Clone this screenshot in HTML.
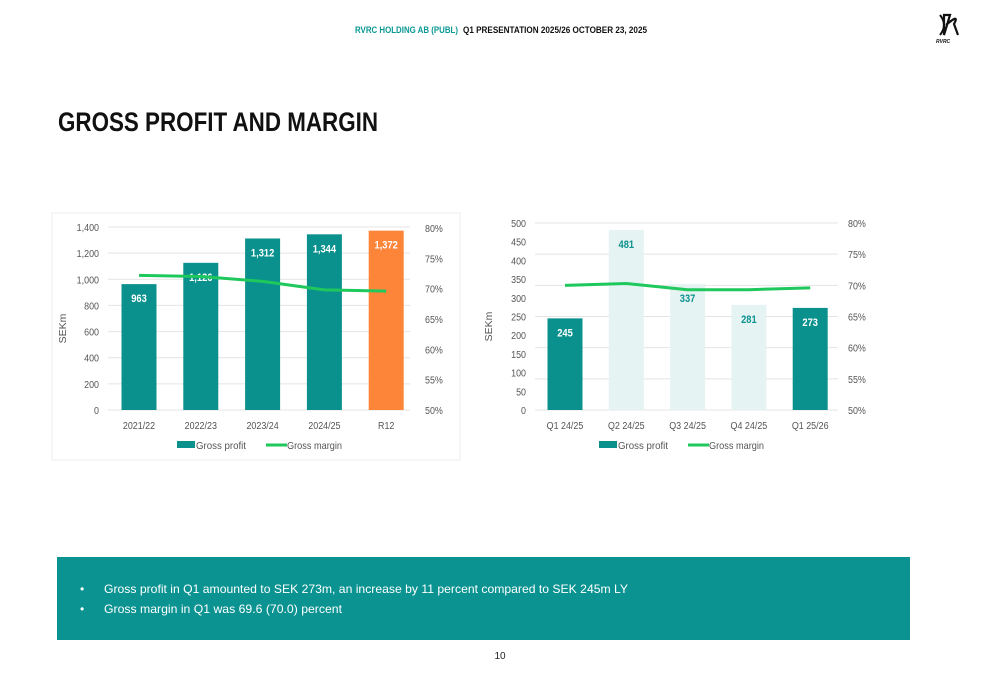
<!DOCTYPE html>
<html><head><meta charset="utf-8">
<style>
html,body{margin:0;padding:0;background:#fff;}
body{width:1000px;height:685px;overflow:hidden;position:relative;font-family:"Liberation Sans",sans-serif;}
svg text{font-family:"Liberation Sans",sans-serif;}
</style></head>
<body>
<svg id="page" width="1000" height="685" viewBox="0 0 1000 685" xmlns="http://www.w3.org/2000/svg">
  <text x="355" y="33" font-size="9" font-weight="bold" fill="#0a9894" textLength="103" lengthAdjust="spacingAndGlyphs">RVRC HOLDING AB (PUBL)</text>
  <text x="463" y="33" font-size="9" font-weight="bold" fill="#111" textLength="184" lengthAdjust="spacingAndGlyphs">Q1 PRESENTATION 2025/26  OCTOBER 23, 2025</text>
  <g>
    <path d="M944 15 L950 15 L944 35 Z M946 25 Q960 13 954 24 L958 35" stroke="#111" stroke-width="2.2" fill="none"/>
    <path d="M940 15 Q948 25 940 35" stroke="#111" stroke-width="2" fill="none"/>
    <text x="936" y="43" font-size="5" font-weight="bold" font-style="italic" fill="#111">RVRC</text>
  </g>
  <text x="58" y="131" font-size="27" font-weight="bold" fill="#111" textLength="320" lengthAdjust="spacingAndGlyphs">GROSS PROFIT AND MARGIN</text>
  <rect x="52" y="213" width="408" height="247" fill="none" stroke="#eee"/>
  <g id="left"></g>
  <g id="right"></g>
  <rect x="57" y="557" width="853" height="83" fill="#0a9391"/>
  <text x="80" y="593" font-size="12" fill="#fff">•</text>
  <text x="104" y="593" font-size="12" fill="#fff" textLength="524" lengthAdjust="spacingAndGlyphs">Gross profit in Q1 amounted to SEK 273m, an increase by 11 percent compared to SEK 245m LY</text>
  <text x="80" y="613" font-size="12" fill="#fff">•</text>
  <text x="104" y="613" font-size="12" fill="#fff" textLength="238" lengthAdjust="spacingAndGlyphs">Gross margin in Q1 was 69.6 (70.0) percent</text>
  <text x="500" y="659" font-size="10" fill="#222" text-anchor="middle">10</text>
</svg>
<script>
const leftCategories = ["2021/22","2022/23","2023/24","2024/25","R12"];
const leftProfit = [963,1126,1312,1344,1372];
const leftMargin = [72.2,72.0,71.2,69.8,69.6];
const leftTicks = [0,200,400,600,800,1000,1200,1400];
const rightCategories = ["Q1 24/25","Q2 24/25","Q3 24/25","Q4 24/25","Q1 25/26"];
const rightProfit = [245,481,337,281,273];
const rightMargin = [70.0,70.3,69.3,69.3,69.6];
const rightTicks = [0,50,100,150,200,250,300,350,400,450,500];
const pctTicks = [50,55,60,65,70,75,80];

const NS="http://www.w3.org/2000/svg";
function mk(parent,tag,attrs,txt){const e=document.createElementNS(NS,tag);for(const k in attrs)e.setAttribute(k,attrs[k]);if(txt!==undefined)e.textContent=txt;parent.appendChild(e);return e;}
const fmt=v=>v.toLocaleString("en-US");
const FS=10.5;
function chart(g,o){
  const yL=v=>o.y0-(v/o.maxL)*(o.y0-o.yTop);
  const yR=v=>o.y0-((v-50)/30)*(o.y0-o.yTopR);
  const xC=i=>o.x0+o.step*i;
  const gridVals = o.gridOnRight ? pctTicks.map(yR) : o.ticks.map(yL);
  gridVals.forEach(y=>{const l=mk(g,"line",{x1:o.gx1,x2:o.gx2,y1:y,y2:y,stroke:"#e4e4e4","stroke-width":1});
    
    });
  o.ticks.forEach(v=>{const t=mk(g,"text",{x:o.lx,y:yL(v)+4,"font-size":FS,fill:"#555","text-anchor":"end",transform:`translate(${o.lx},0) scale(0.85,1) translate(${-o.lx},0)`},fmt(v));
    
    });
  pctTicks.forEach(v=>{const t=mk(g,"text",{x:o.rx,y:yR(v)+4,"font-size":FS,fill:"#555",transform:`translate(${o.rx},0) scale(0.85,1) translate(${-o.rx},0)`},v+"%");
    
    });
  const yt=mk(g,"text",{x:0,y:0,"font-size":FS,fill:"#555","text-anchor":"middle",transform:`translate(${o.ytx},${(o.y0+o.yTop)/2+10}) rotate(-90)`},"SEKm");
  
  
  o.cats.forEach((c,i)=>{
    const v=o.vals[i],y=yL(v),w=35,cx=xC(i);
    const r=mk(g,"rect",{x:cx-w/2,y:y,width:w,height:o.y0-y,fill:o.colors[i]});
    
    
    const lab=mk(g,"text",{x:cx,y:y+18,"font-size":11,"font-weight":"bold",fill:o.labColors[i],"text-anchor":"middle",transform:`translate(${cx},0) scale(0.85,1) translate(${-cx},0)`},fmt(v));
    
    
    const xl=mk(g,"text",{x:cx,y:o.y0+19,"font-size":FS,fill:"#555","text-anchor":"middle",transform:`translate(${cx},0) scale(0.85,1) translate(${-cx},0)`},c);
    
    
  });
  const pts=o.margin.map((m,i)=>xC(i)+","+yR(m)).join(" ");
  const pl=mk(g,"polyline",{points:pts,fill:"none",stroke:"#1fc85c","stroke-width":3,"stroke-linejoin":"round"});
  
  
  const ly=o.y0+36;
  const lr=mk(g,"rect",{x:o.legX,y:ly-5,width:18,height:7,fill:"#0a918d"});
  
  
  const lt=mk(g,"text",{x:o.legX+19,y:ly+3,"font-size":FS,fill:"#555",textLength:50,lengthAdjust:"spacingAndGlyphs"},"Gross profit");
  
  
  const ll=mk(g,"line",{x1:o.legX+89,x2:o.legX+110,y1:ly-1,y2:ly-1,stroke:"#1fc85c","stroke-width":3});
  
  
  const lt2=mk(g,"text",{x:o.legX+110,y:ly+3,"font-size":FS,fill:"#555",textLength:55,lengthAdjust:"spacingAndGlyphs"},"Gross margin");
  
  
}
chart(document.getElementById("left"),{cats:leftCategories,vals:leftProfit,margin:leftMargin,ticks:leftTicks,maxL:1400,
  y0:410,yTop:227,yTopR:228,x0:139,step:61.8,gx1:108,gx2:410,lx:99,rx:425,ytx:66,legX:177,gridOnRight:false,
  colors:["#0a918d","#0a918d","#0a918d","#0a918d","#fd8539"],labColors:["#fff","#fff","#fff","#fff","#fff"]});
chart(document.getElementById("right"),{cats:rightCategories,vals:rightProfit,margin:rightMargin,ticks:rightTicks,maxL:500,
  y0:410,yTop:223,yTopR:223,x0:565,step:61.3,gx1:535,gx2:838,lx:526,rx:848,ytx:492,legX:599,gridOnRight:true,
  colors:["#0a918d","#e5f3f2","#e5f3f2","#e5f3f2","#0a918d"],labColors:["#fff","#0a918d","#0a918d","#0a918d","#fff"]});
</script>
</body></html>
